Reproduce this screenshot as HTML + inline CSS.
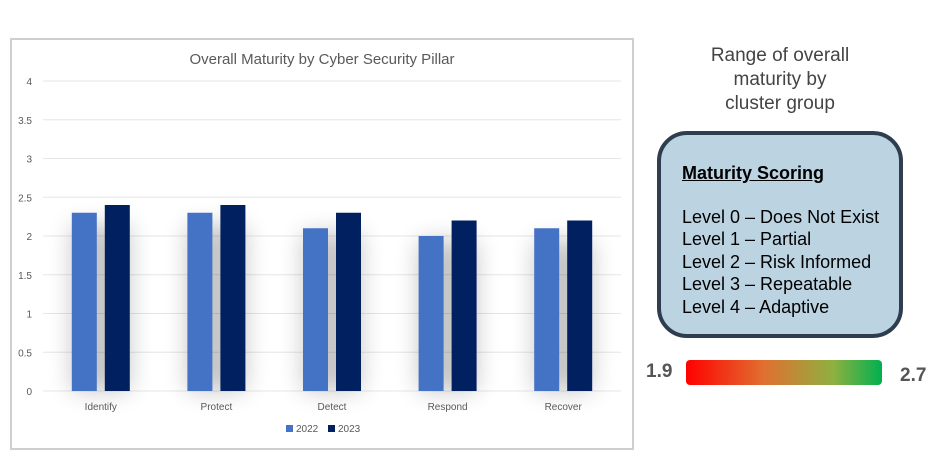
<!DOCTYPE html>
<html><head><meta charset="utf-8"><style>
body{margin:0;width:928px;height:474px;background:#fff;font-family:"Liberation Sans",sans-serif;position:relative;overflow:hidden}
#chart{position:absolute;left:10px;top:38px;width:620px;height:408px;border:2px solid #cfcfcf;background:#fff}
svg text{font-family:"Liberation Sans",sans-serif}
#title-r{position:absolute;left:680px;top:44px;width:200px;text-align:center;font-size:19px;color:#444;line-height:24px}
#box{position:absolute;left:657px;top:131px;width:246px;height:207px;border:4px solid #2f3e4e;border-radius:30px;background:#bcd3e2;box-sizing:border-box;padding:27px 0 0 21px;font-size:18px;color:#000;line-height:22.5px}
#grad{position:absolute;left:686px;top:360px;width:196px;height:25px;border-radius:4px;background:linear-gradient(to right,#ff0000,#e07030 40%,#8fb040 75%,#00b050)}
.lbl{position:absolute;font-size:19px;font-weight:bold;color:#555}
</style></head><body>
<div id="chart">
<svg width="620" height="408" id="svg"></svg>
</div>
<div id="title-r">Range of overall<br>maturity by<br>cluster group</div>
<div id="box">
<div style="font-weight:bold;text-decoration:underline;margin-bottom:21px">Maturity Scoring</div>
<div>Level 0 – Does Not Exist</div>
<div>Level 1 – Partial</div>
<div>Level 2 – Risk Informed</div>
<div>Level 3 – Repeatable</div>
<div>Level 4 – Adaptive</div>
</div>
<div class="lbl" style="left:646px;top:361px">1.9</div>
<div id="grad"></div>
<div class="lbl" style="left:900px;top:365px">2.7</div>
<script>
const categories=["Identify","Protect","Detect","Respond","Recover"];
const series2022=[2.3,2.3,2.1,2.0,2.1];
const series2023=[2.4,2.4,2.3,2.2,2.2];
const yTicks=[0,0.5,1,1.5,2,2.5,3,3.5,4];
const NS="http://www.w3.org/2000/svg";
const svg=document.getElementById('svg');
const x0=31,x1=609,yZero=351,yTop=41;
const y=v=>yZero-(v/4)*(yZero-yTop);
const band=(x1-x0)/categories.length;
const cx=i=>x0+band*(i+0.5);
function el(t,a){const e=document.createElementNS(NS,t);for(const k in a)e.setAttribute(k,a[k]);svg.appendChild(e);return e;}
const defs=el('defs',{});
defs.innerHTML='<filter id="sh" x="-100%" y="-20%" width="300%" height="150%"><feGaussianBlur stdDeviation="12"/></filter>';
let t=el('text',{x:310,y:24,'text-anchor':'middle','font-size':15,fill:'#595959'});t.textContent='Overall Maturity by Cyber Security Pillar';


yTicks.forEach(v=>{
 const l=el('line',{x1:x0,x2:x1,y1:y(v),y2:y(v),stroke:'#e6e6e6','stroke-width':1});
 
 
 const tx=el('text',{x:20,y:y(v)+4,'text-anchor':'end','font-size':10,fill:'#595959'});tx.textContent=v;
 
 
});
const bw=25,gap=8;
categories.forEach((c,i)=>{
 const sh=el('rect',{x:cx(i)-bw-gap/2,y:y(series2023[i])+20,width:2*bw+gap,height:yZero-y(series2023[i])-20,fill:'#000',opacity:0.22,filter:'url(#sh)'});
 
 
});
categories.forEach((c,i)=>{
 const a=el('rect',{x:cx(i)-bw-gap/2,y:y(series2022[i]),width:bw,height:yZero-y(series2022[i]),fill:'#4472c4'});
 
 
 const b=el('rect',{x:cx(i)+gap/2,y:y(series2023[i]),width:bw,height:yZero-y(series2023[i]),fill:'#002060'});
 
 
 const tx=el('text',{x:cx(i),y:yZero+19,'text-anchor':'middle','font-size':10,fill:'#595959'});tx.textContent=c;
 
 
});
const lg=[["2022","#4472c4",274],["2023","#002060",316]];
lg.forEach(([n,col,lx])=>{
 const r=el('rect',{x:lx,y:385,width:7,height:7,fill:col});
 
 
 const tx=el('text',{x:lx+10,y:392,'font-size':10,fill:'#595959'});tx.textContent=n;
 
 
});
</script>
</body></html>
